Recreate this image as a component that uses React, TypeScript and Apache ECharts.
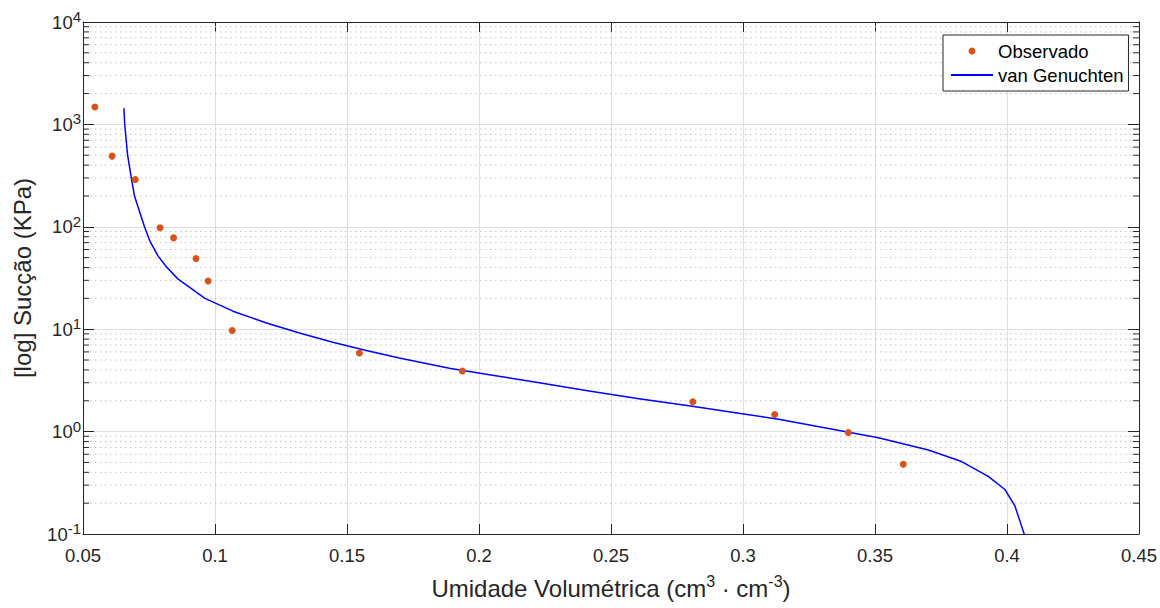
import React, { useEffect, useRef } from "react";
import * as echarts from "echarts";

// ---- data ----
const obsX = [0.0545, 0.061, 0.0698, 0.0792, 0.0843, 0.0928, 0.0974, 0.1065, 0.1547, 0.1937, 0.281, 0.312, 0.3399, 0.3607];
const obsY = [1480, 490, 290, 98, 78, 49, 29.5, 9.7, 5.85, 3.9, 1.96, 1.47, 0.98, 0.48];

const fitX = [0.0655, 0.0658, 0.0669, 0.0683, 0.0695, 0.0733, 0.0754, 0.0784, 0.0815, 0.0859, 0.0962, 0.1068, 0.1195, 0.132, 0.1446, 0.1573, 0.1698, 0.1888, 0.2039, 0.2228, 0.2417, 0.2606, 0.2795, 0.2984, 0.3135, 0.3324, 0.3513, 0.3702, 0.3828, 0.3929, 0.3992, 0.403, 0.4065, 0.4072];
const fitY = [1436, 1000, 500, 300, 200, 100, 72, 52, 41, 31, 20, 15.0, 11.5, 9.17, 7.46, 6.2, 5.23, 4.15, 3.59, 3.0, 2.49, 2.09, 1.79, 1.51, 1.32, 1.07, 0.87, 0.661, 0.51, 0.365, 0.272, 0.188, 0.1, 0.085];

const X_MIN = 0.05;
const X_MAX = 0.45;
const X_STEP = 0.05;
const Y_MIN = 0.1;
const Y_MAX = 10000;
const Y_DECADES = [0.1, 1, 10, 100, 1000];
const MINOR_MULTS = [2, 3, 4, 5, 6, 7, 8, 9];

const SERIES_OBS = "Observado";
const SERIES_FIT = "van Genuchten";
const X_TITLE = "Umidade Volumétrica (cm{s|3} · cm{s|-3})";
const Y_TITLE = "[log] Sucção (KPa)";

const AXIS = "#262626";
const FONT = "'Liberation Sans', Arial, Helvetica, sans-serif";

export default function App() {
  const ref = useRef<HTMLDivElement>(null);

  useEffect(() => {
    if (!ref.current) return;
    const chart = echarts.init(ref.current, null, { renderer: "svg" });

    const minorTicks: number[] = [];
    Y_DECADES.forEach((d) => MINOR_MULTS.forEach((m) => minorTicks.push(m * d)));

    const obsData = obsX.map((x, i) => [x, obsY[i]]);
    const fitData = fitX.map((x, i) => [x, fitY[i]]);

    const xCommon = {
      type: "value",
      min: X_MIN,
      max: X_MAX,
      interval: X_STEP,
      axisLine: { show: true, onZero: false, lineStyle: { color: AXIS, width: 1 } },
      axisTick: { show: true, inside: true, length: 10, lineStyle: { color: AXIS, width: 1 } },
    };
    const yCommon = {
      type: "log",
      logBase: 10,
      min: Y_MIN,
      max: Y_MAX,
      axisLine: { show: true, onZero: false, lineStyle: { color: AXIS, width: 1 } },
      axisTick: { show: true, inside: true, length: 11, lineStyle: { color: AXIS, width: 1 } },
      minorTick: { show: false },
    };

    chart.setOption({
      animation: false,
      backgroundColor: "#ffffff",
      textStyle: { fontFamily: FONT },
      grid: { left: 83, right: 19, top: 22, bottom: 68, containLabel: false },
      legend: {
        left: 943,
        top: 35,
        orient: "vertical",
        padding: [6, 5, 6, 7],
        itemGap: 4,
        itemWidth: 42,
        itemHeight: 7,
        borderColor: AXIS,
        borderWidth: 1,
        borderRadius: 0,
        backgroundColor: "#ffffff",
        selectedMode: false,
        z: 10,
        textStyle: { fontFamily: FONT, fontSize: 18.5, lineHeight: 20, color: "#000000" },
        data: [
          { name: SERIES_OBS, icon: "circle" },
          { name: SERIES_FIT, itemStyle: { opacity: 0 } },
        ],
      },
      xAxis: [
        {
          ...xCommon,
          position: "bottom",
          axisLabel: {
            margin: 12,
            fontFamily: FONT,
            fontSize: 18.5,
            color: AXIS,
            formatter: (v: number) => String(parseFloat(v.toFixed(2))),
          },
          splitLine: { show: true, lineStyle: { color: "#dfdfdf", width: 1 } },
          name: X_TITLE,
          nameLocation: "middle",
          nameGap: 39,
          nameTextStyle: {
            fontFamily: FONT,
            fontSize: 24,
            lineHeight: 30,
            color: AXIS,
            rich: { s: { fontFamily: FONT, fontSize: 16, lineHeight: 30, verticalAlign: "top", color: AXIS } },
          },
        },
        {
          ...xCommon,
          position: "top",
          axisLabel: { show: false },
          splitLine: { show: false },
        },
      ],
      yAxis: [
        {
          ...yCommon,
          position: "left",
          axisLabel: {
            margin: 2,
            formatter: (v: number) => `{b|10}{s|${Math.round(Math.log10(v))}}`,
            rich: {
              b: { fontFamily: FONT, fontSize: 18.5, lineHeight: 26, color: AXIS },
              s: { fontFamily: FONT, fontSize: 15, lineHeight: 26, verticalAlign: "top", color: AXIS },
            },
          },
          splitLine: { show: true, lineStyle: { color: "#dfdfdf", width: 1 } },
          name: Y_TITLE,
          nameLocation: "middle",
          nameGap: 49,
          nameTextStyle: { fontFamily: FONT, fontSize: 24, color: AXIS },
        },
        {
          ...yCommon,
          position: "right",
          axisLabel: { show: false },
          splitLine: { show: false },
        },
      ],
      series: [
        {
          type: "custom",
          name: "minor",
          silent: true,
          z: 1,
          xAxisIndex: 0,
          yAxisIndex: 0,
          data: minorTicks.map((v) => [X_MIN, v]),
          renderItem: (params: any, api: any) => {
            const v = api.value(1);
            const p0 = api.coord([X_MIN, v]);
            const p1 = api.coord([X_MAX, v]);
            return {
              type: "group",
              children: [
                {
                  type: "line",
                  shape: { x1: p0[0] + 7, y1: p0[1], x2: p1[0] - 7, y2: p1[1] },
                  style: { stroke: "#c2c2c2", lineWidth: 1, lineDash: [1.5, 3.5] },
                },
                {
                  type: "line",
                  shape: { x1: p0[0], y1: p0[1], x2: p0[0] + 6, y2: p0[1] },
                  style: { stroke: AXIS, lineWidth: 1 },
                },
                {
                  type: "line",
                  shape: { x1: p1[0] - 6, y1: p1[1], x2: p1[0], y2: p1[1] },
                  style: { stroke: AXIS, lineWidth: 1 },
                },
              ],
            };
          },
        },
        {
          type: "line",
          name: SERIES_FIT,
          data: fitData,
          symbol: "none",
          smooth: false,
          clip: true,
          z: 3,
          lineStyle: { color: "#0000ff", width: 1.5, join: "round" },
          itemStyle: { color: "#0000ff" },
        },
        {
          type: "scatter",
          name: SERIES_OBS,
          data: obsData,
          symbol: "circle",
          symbolSize: 7,
          z: 4,
          itemStyle: { color: "#D95319", opacity: 1 },
        },
      ],
    });

    return () => chart.dispose();
  }, []);

  return (
    <div
      ref={ref}
      style={{ position: "fixed", left: 0, top: 0, width: 1160, height: 608, background: "#fff" }}
    />
  );
}
